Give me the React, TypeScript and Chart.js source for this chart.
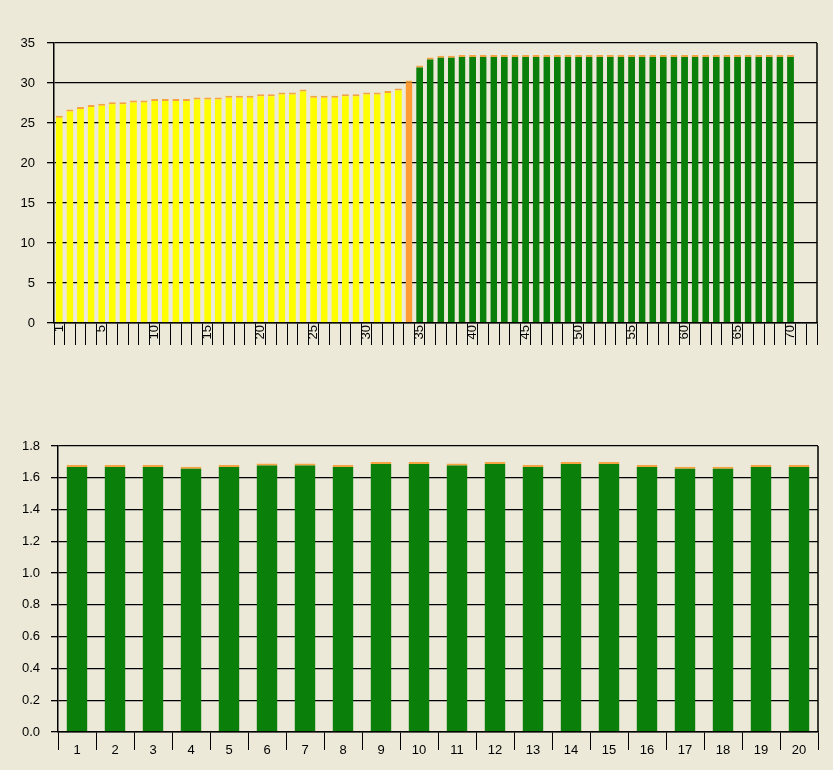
import React, { useEffect, useRef } from "react";
import { Chart, registerables } from "chart.js";
Chart.register(...registerables);

// ---- Top chart data ----
const topCategories = [
  "1", "2", "3", "4", "5", "6", "7", "8", "9", "10",
  "11", "12", "13", "14", "15", "16", "17", "18", "19", "20",
  "21", "22", "23", "24", "25", "26", "27", "28", "29", "30",
  "31", "32", "33", "34", "35", "36", "37", "38", "39", "40",
  "41", "42", "43", "44", "45", "46", "47", "48", "49", "50",
  "51", "52", "53", "54", "55", "56", "57", "58", "59", "60",
  "61", "62", "63", "64", "65", "66", "67", "68", "69", "70",
  "71", "72",
];
const topShownLabels = ["1", "5", "10", "15", "20", "25", "30", "35", "40", "45", "50", "55", "60", "65", "70"];

// bars 1-33
const yellowValues = [
  25.9, 26.7, 27.0, 27.25, 27.4, 27.6, 27.6, 27.8, 27.8, 28.0,
  28.0, 28.0, 28.0, 28.2, 28.2, 28.2, 28.4, 28.4, 28.4, 28.6,
  28.6, 28.8, 28.8, 29.2, 28.4, 28.4, 28.4, 28.6, 28.6, 28.8,
  28.8, 29.0, 29.3,
];
// bar 34
const orangeValues = [30.3];
// bars 35-70
const greenValues = [
  32.2, 33.2, 33.4, 33.4, 33.5, 33.5, 33.5, 33.5, 33.5, 33.5,
  33.5, 33.5, 33.5, 33.5, 33.5, 33.5, 33.5, 33.5, 33.5, 33.5,
  33.5, 33.5, 33.5, 33.5, 33.5, 33.5, 33.5, 33.5, 33.5, 33.5,
  33.5, 33.5, 33.5, 33.5, 33.5, 33.5,
];
const topYTicks = [0, 5, 10, 15, 20, 25, 30, 35];

// ---- Bottom chart data ----
const bottomCategories = [
  "1", "2", "3", "4", "5", "6", "7", "8", "9", "10",
  "11", "12", "13", "14", "15", "16", "17", "18", "19", "20",
];
const bottomValues = [
  1.68, 1.68, 1.68, 1.67, 1.68, 1.69, 1.69, 1.68, 1.70, 1.70,
  1.69, 1.70, 1.68, 1.70, 1.70, 1.68, 1.67, 1.67, 1.68, 1.68,
];
const bottomYTicks = [0, 0.2, 0.4, 0.6, 0.8, 1.0, 1.2, 1.4, 1.6, 1.8];

const BG = "#ECE9D8";
const YELLOW = "#FFFF00";
const ORANGE = "#FF9C33";
const GREEN = "#0A7F0A";
const CAP = "#F5A442";
const FONT = { family: "'Liberation Sans', Arial, sans-serif", size: 13 };

const frameRight = {
  id: "frameRight",
  afterDatasetsDraw(chart: any) {
    const { ctx, chartArea } = chart;
    ctx.save();
    ctx.strokeStyle = "#000";
    ctx.lineWidth = 1.5;
    ctx.beginPath();
    ctx.moveTo(chartArea.right, chartArea.top);
    ctx.lineTo(chartArea.right, chartArea.bottom);
    ctx.stroke();
    ctx.restore();
  },
};

function padTo(arr: number[], start: number, total: number) {
  const out: (number | null)[] = new Array(total).fill(null);
  arr.forEach((v, i) => (out[start + i] = v));
  return out;
}

export default function App() {
  const topRef = useRef<HTMLCanvasElement>(null);
  const botRef = useRef<HTMLCanvasElement>(null);

  useEffect(() => {
    const n = topCategories.length;
    const capBorder = { top: 2, left: 0, right: 0, bottom: 0 };
    const mk = (vals: number[], start: number, color: string) => ({
      data: padTo(vals, start, n),
      backgroundColor: color,
      borderColor: CAP,
      borderWidth: capBorder,
      borderSkipped: "start",
      barPercentage: 0.65,
      categoryPercentage: 1,
    });
    const top = new Chart(topRef.current!, {
      type: "bar",
      data: {
        labels: topCategories,
        datasets: [
          mk(yellowValues, 0, YELLOW),
          mk(orangeValues, yellowValues.length, ORANGE),
          mk(greenValues, yellowValues.length + orangeValues.length, GREEN),
        ] as any,
      },
      options: {
        animation: false,
        responsive: false,
        maintainAspectRatio: false,
        layout: { padding: { top: 43, right: 16, left: 0, bottom: 0 } },
        plugins: { legend: { display: false }, tooltip: { enabled: false } },
        scales: {
          x: {
            stacked: true,
            grid: { offset: true, drawOnChartArea: false, drawTicks: true, tickLength: 22, color: "#000", lineWidth: 1 },
            border: { display: true, color: "#000", width: 1.5 },
            ticks: {
              autoSkip: false,
              maxRotation: 90,
              minRotation: 90,
              padding: -20,
              color: "#000",
              font: FONT,
              callback: (_v: any, i: number) =>
                topShownLabels.includes(topCategories[i]) ? topCategories[i] : "",
            },
            afterFit: (s: any) => {
              s.height = 57;
            },
          },
          y: {
            stacked: true,
            min: 0,
            max: 35,
            afterBuildTicks: (s: any) => {
              s.ticks = topYTicks.map((v) => ({ value: v }));
            },
            ticks: { padding: 12, color: "#000", font: FONT },
            grid: { color: "#000", lineWidth: 1.3, tickLength: 7 },
            border: { display: true, color: "#000", width: 1.5 },
            afterFit: (s: any) => {
              s.width = 54;
            },
          },
        },
      } as any,
      plugins: [frameRight],
    });

    const bot = new Chart(botRef.current!, {
      type: "bar",
      data: {
        labels: bottomCategories,
        datasets: [
          {
            data: bottomValues,
            backgroundColor: GREEN,
            borderColor: CAP,
            borderWidth: capBorder,
            borderSkipped: "start",
            barPercentage: 0.55,
            categoryPercentage: 1,
          },
        ] as any,
      },
      options: {
        animation: false,
        responsive: false,
        maintainAspectRatio: false,
        layout: { padding: { top: 46, right: 15, left: 0, bottom: 0 } },
        plugins: { legend: { display: false }, tooltip: { enabled: false } },
        scales: {
          x: {
            grid: { offset: true, drawOnChartArea: false, drawTicks: true, tickLength: 18, color: "#000", lineWidth: 1 },
            border: { display: true, color: "#000", width: 1.5 },
            ticks: { autoSkip: false, maxRotation: 0, minRotation: 0, padding: -7, color: "#000", font: FONT },
            afterFit: (s: any) => {
              s.height = 38;
            },
          },
          y: {
            min: 0,
            max: 1.8,
            afterBuildTicks: (s: any) => {
              s.ticks = bottomYTicks.map((v) => ({ value: v }));
            },
            ticks: {
              padding: 11,
              color: "#000",
              font: FONT,
              callback: (v: any) => Number(v).toFixed(1),
            },
            grid: { color: "#000", lineWidth: 1.3, tickLength: 7 },
            border: { display: true, color: "#000", width: 1.5 },
            afterFit: (s: any) => {
              s.width = 58;
            },
          },
        },
      } as any,
      plugins: [frameRight],
    });

    return () => {
      top.destroy();
      bot.destroy();
    };
  }, []);

  return (
    <div style={{ position: "fixed", left: 0, top: 0, width: 833, height: 770, background: BG, overflow: "hidden" }}>
      <canvas ref={topRef} width={833} height={380} style={{ position: "absolute", left: 0, top: 0, width: 833, height: 380 }} />
      <canvas ref={botRef} width={833} height={370} style={{ position: "absolute", left: 0, top: 400, width: 833, height: 370 }} />
    </div>
  );
}
